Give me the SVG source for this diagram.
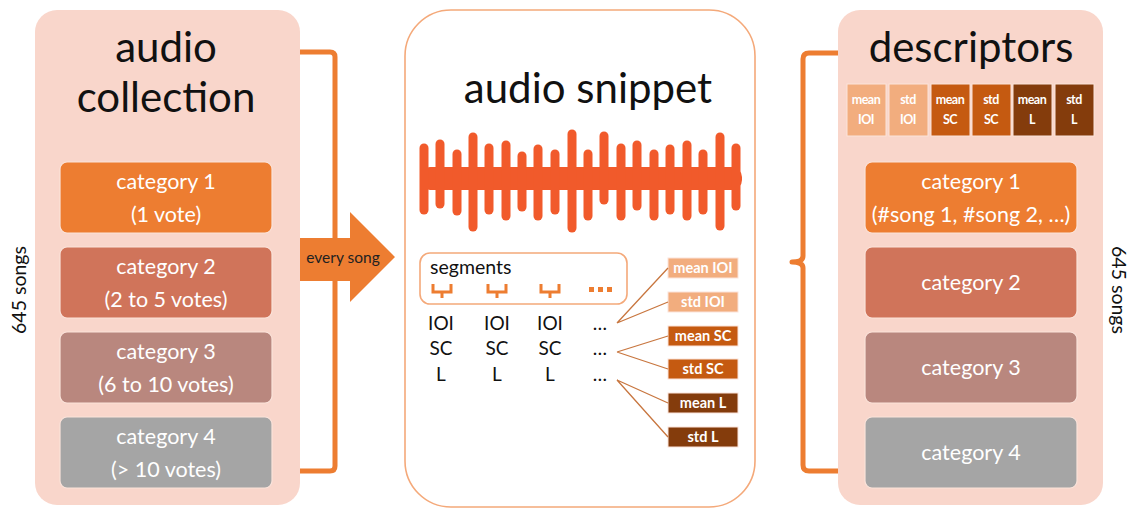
<svg xmlns="http://www.w3.org/2000/svg" width="1133" height="513" viewBox="0 0 1133 513">
  <style>
    text { font-family: Lato, "Open Sans", "DejaVu Sans", sans-serif; }
    .panel { fill: #F9D6CB; }
    .title { font-size: 42px; fill: #111; text-anchor: middle; }
    .cat { stroke: #FBE3DA; stroke-width: 1.2; }
    .catText { font-size: 21.5px; fill: #fff; text-anchor: middle; }
    .side { font-size: 19.5px; fill: #111; text-anchor: middle; }
    .brace { fill: none; stroke: #ED7D31; stroke-width: 5; stroke-linejoin: round; stroke-linecap: butt; }
    .feat { font-size: 19px; fill: #111; text-anchor: middle; }
    .tag { stroke: #FBE3DA; stroke-width: 1; }
    .tagText { font-size: 14.5px; font-weight: bold; fill: #fff; text-anchor: middle; }
    .mini { font-size: 12.5px; font-weight: bold; fill: #fff; text-anchor: middle; letter-spacing: -0.5px; }
    .link { stroke: #C8763F; stroke-width: 1.3; fill: none; }
    .c1 { fill: #ED7D31; }
    .c2 { fill: #D0745A; }
    .c3 { fill: #B9877E; }
    .c4 { fill: #A5A5A5; }
    .lo { fill: #F2AD7E; }
    .mo { fill: #C55A11; }
    .dk { fill: #843C0C; }
    .wave { stroke: #F15A2B; stroke-width: 9; stroke-linecap: round; }
    .seg { fill: none; stroke: #ED7D31; stroke-width: 3; }
  </style>

  <!-- left panel: audio collection -->
  <g id="audio-collection">
    <rect class="panel" x="35" y="10" width="265" height="495" rx="22"/>
    <text class="title" x="166" y="62">audio</text>
    <text class="title" x="166" y="112">collection</text>
    <text class="side" transform="translate(26,290) rotate(-90)">645 songs</text>
  </g>
  <g id="collection-category-1">
    <rect class="cat c1" x="60" y="162" width="212" height="71" rx="7"/>
    <text class="catText" x="166" y="189">category 1</text>
    <text class="catText" x="166" y="222">(1 vote)</text>
  </g>
  <g id="collection-category-2">
    <rect class="cat c2" x="60" y="247" width="212" height="71" rx="7"/>
    <text class="catText" x="166" y="274">category 2</text>
    <text class="catText" x="166" y="307">(2 to 5 votes)</text>
  </g>
  <g id="collection-category-3">
    <rect class="cat c3" x="60" y="332" width="212" height="71" rx="7"/>
    <text class="catText" x="166" y="359">category 3</text>
    <text class="catText" x="166" y="392">(6 to 10 votes)</text>
  </g>
  <g id="collection-category-4">
    <rect class="cat c4" x="60" y="417" width="212" height="71" rx="7"/>
    <text class="catText" x="166" y="444">category 4</text>
    <text class="catText" x="166" y="477">(&gt; 10 votes)</text>
  </g>

  <!-- middle panel: audio snippet -->
  <g id="audio-snippet">
    <rect x="405" y="10" width="350" height="497" rx="46" fill="#fff" stroke="#F4A97A" stroke-width="1.6"/>
    <text class="title" x="588" y="103">audio snippet</text>
    <!-- waveform -->
    <g id="waveform">
      <rect x="420" y="167" width="322" height="23" rx="10" fill="#F15A2B"/>
      <line class="wave" x1="424" y1="148" x2="424" y2="210"/>
      <line class="wave" x1="440" y1="144" x2="440" y2="204"/>
      <line class="wave" x1="457" y1="154" x2="457" y2="211"/>
      <line class="wave" x1="473" y1="137" x2="473" y2="227"/>
      <line class="wave" x1="489" y1="148" x2="489" y2="210"/>
      <line class="wave" x1="506" y1="145" x2="506" y2="216"/>
      <line class="wave" x1="522" y1="156" x2="522" y2="207"/>
      <line class="wave" x1="538" y1="149" x2="538" y2="216"/>
      <line class="wave" x1="555" y1="154" x2="555" y2="210"/>
      <line class="wave" x1="572" y1="134" x2="572" y2="228"/>
      <line class="wave" x1="588" y1="154" x2="588" y2="216"/>
      <line class="wave" x1="604" y1="136" x2="604" y2="200"/>
      <line class="wave" x1="621" y1="148" x2="621" y2="216"/>
      <line class="wave" x1="637" y1="145" x2="637" y2="206"/>
      <line class="wave" x1="654" y1="154" x2="654" y2="216"/>
      <line class="wave" x1="670" y1="149" x2="670" y2="210"/>
      <line class="wave" x1="687" y1="145" x2="687" y2="216"/>
      <line class="wave" x1="703" y1="154" x2="703" y2="210"/>
      <line class="wave" x1="720" y1="137" x2="720" y2="226"/>
      <line class="wave" x1="736" y1="148" x2="736" y2="206"/>
    </g>
    <!-- segments box -->
    <rect x="420" y="253" width="207" height="51" rx="10" fill="#fff" stroke="#F4A97A" stroke-width="1.6"/>
    <text x="430" y="274" font-size="19.5" fill="#111">segments</text>
    <path class="seg" d="M433 284 V292 H451 V284 M442 292 V298"/>
    <path class="seg" d="M488 284 V292 H506 V284 M497 292 V298"/>
    <path class="seg" d="M541 284 V292 H559 V284 M550 292 V298"/>
    <rect x="589" y="287" width="5" height="5" fill="#ED7D31"/>
    <rect x="598" y="287" width="5" height="5" fill="#ED7D31"/>
    <rect x="607" y="287" width="5" height="5" fill="#ED7D31"/>
    <!-- per-segment features -->
    <text class="feat" x="441" y="330">IOI</text>
    <text class="feat" x="497" y="330">IOI</text>
    <text class="feat" x="550" y="330">IOI</text>
    <text class="feat" x="600" y="330">…</text>
    <text class="feat" x="441" y="355">SC</text>
    <text class="feat" x="497" y="355">SC</text>
    <text class="feat" x="550" y="355">SC</text>
    <text class="feat" x="600" y="355">…</text>
    <text class="feat" x="441" y="381">L</text>
    <text class="feat" x="497" y="381">L</text>
    <text class="feat" x="550" y="381">L</text>
    <text class="feat" x="600" y="381">…</text>
  </g>

  <!-- summary statistics -->
  <g id="stat-mean-ioi"><rect class="tag lo" x="668" y="258" width="70" height="20"/><text class="tagText" x="703" y="273">mean IOI</text></g>
  <g id="stat-std-ioi"><rect class="tag lo" x="668" y="292" width="70" height="20"/><text class="tagText" x="703" y="307">std IOI</text></g>
  <g id="stat-mean-sc"><rect class="tag mo" x="668" y="326" width="70" height="20"/><text class="tagText" x="703" y="341">mean SC</text></g>
  <g id="stat-std-sc"><rect class="tag mo" x="668" y="359" width="70" height="20"/><text class="tagText" x="703" y="374">std SC</text></g>
  <g id="stat-mean-l"><rect class="tag dk" x="668" y="393" width="70" height="20"/><text class="tagText" x="703" y="408">mean L</text></g>
  <g id="stat-std-l"><rect class="tag dk" x="668" y="427" width="70" height="20"/><text class="tagText" x="703" y="442">std L</text></g>

  <!-- right panel: descriptors -->
  <g id="descriptors">
    <rect class="panel" x="838" y="10" width="265" height="495" rx="22"/>
    <text class="title" x="971" y="62">descriptors</text>
    <g id="descriptor-vector">
      <rect class="tag lo" x="847" y="84" width="39" height="52"/>
      <rect class="tag lo" x="889" y="84" width="39" height="52"/>
      <rect class="tag mo" x="931" y="84" width="39" height="52"/>
      <rect class="tag mo" x="972" y="84" width="39" height="52"/>
      <rect class="tag dk" x="1013" y="84" width="39" height="52"/>
      <rect class="tag dk" x="1055" y="84" width="39" height="52"/>
      <text class="mini" x="866" y="104">mean</text><text class="mini" x="866" y="124">IOI</text>
      <text class="mini" x="908" y="104">std</text><text class="mini" x="908" y="124">IOI</text>
      <text class="mini" x="950" y="104">mean</text><text class="mini" x="950" y="124">SC</text>
      <text class="mini" x="991" y="104">std</text><text class="mini" x="991" y="124">SC</text>
      <text class="mini" x="1032" y="104">mean</text><text class="mini" x="1032" y="124">L</text>
      <text class="mini" x="1074" y="104">std</text><text class="mini" x="1074" y="124">L</text>
    </g>
    <text class="side" transform="translate(1112,290) rotate(90)">645 songs</text>
  </g>
  <g id="descriptor-category-1">
    <rect class="cat c1" x="865" y="162" width="212" height="71" rx="7"/>
    <text class="catText" x="971" y="189">category 1</text>
    <text class="catText" x="971" y="222">(#song 1, #song 2, …)</text>
  </g>
  <g id="descriptor-category-2">
    <rect class="cat c2" x="865" y="247" width="212" height="71" rx="7"/>
    <text class="catText" x="971" y="290">category 2</text>
  </g>
  <g id="descriptor-category-3">
    <rect class="cat c3" x="865" y="332" width="212" height="71" rx="7"/>
    <text class="catText" x="971" y="375">category 3</text>
  </g>
  <g id="descriptor-category-4">
    <rect class="cat c4" x="865" y="417" width="212" height="71" rx="7"/>
    <text class="catText" x="971" y="460">category 4</text>
  </g>

  <!-- connectors -->
  <g id="connectors">
    <path class="brace" d="M300 52 H330 Q335 52 335 57 V466 Q335 471 330 471 H300"/>
    <path class="brace" d="M838 53 H809 Q803 53 803 59 V256 Q803 262 792 262 Q803 262 803 268 V465 Q803 471 809 471 H838"/>
    <path d="M300 238 H350 V212 L395 257 L350 302 V281 H300 Z" fill="#ED7D31"/>
    <text x="343" y="263" font-size="15.5" fill="#222" text-anchor="middle">every song</text>
    <path class="link" d="M617 323 L668 268 M617 323 L668 302"/>
    <path class="link" d="M617 352 L668 336 M617 352 L668 369"/>
    <path class="link" d="M617 380 L668 403 M617 380 L668 437"/>
  </g>
</svg>
